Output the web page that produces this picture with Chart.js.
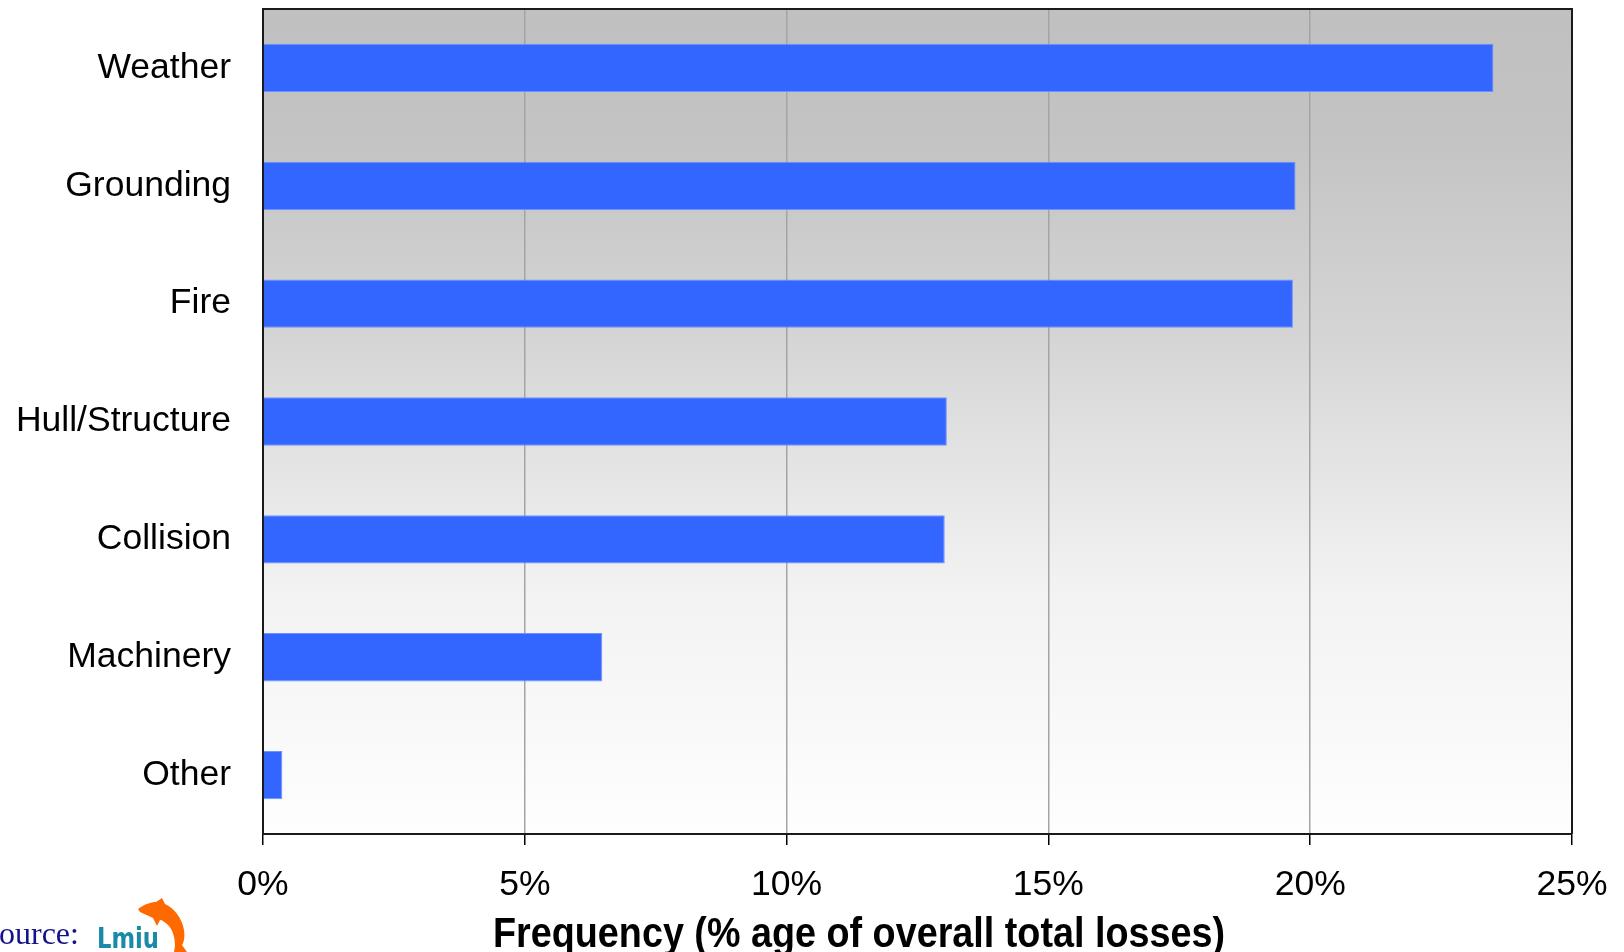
<!DOCTYPE html>
<html>
<head>
<meta charset="utf-8">
<title>Causes of total losses</title>
<script src="https://cdn.jsdelivr.net/npm/chart.js@4.4.1/dist/chart.umd.min.js"></script>
<style>
  html, body { margin: 0; padding: 0; background: #ffffff; }
  #wrap { width: 1624px; height: 952px; position: relative; }
  canvas { display: block; }
</style>
</head>
<body>
<div id="wrap"><canvas id="chart" width="1624" height="952"></canvas></div>
<script>
// Loss causes, top to bottom, with their share of overall total losses (%)
const causes = ['Weather', 'Grounding', 'Fire', 'Hull/Structure', 'Collision', 'Machinery', 'Other'];
const lossShare = [23.5, 19.72, 19.67, 13.06, 13.02, 6.48, 0.37];
// Frequency axis ticks (%)
const freqTicks = [0, 5, 10, 15, 20, 25];
const axisTitle = 'Frequency (% age of overall total losses)';
const sourceLabel = 'Source:';
const sourceName = 'Lmiu';

// Grey-to-white vertical wash behind the plot area
const plotBackground = {
  id: 'plotBackground',
  beforeDraw(chart) {
    const { ctx, chartArea: a } = chart;
    const g = ctx.createLinearGradient(0, a.top, 0, a.bottom);
    g.addColorStop(0.0, '#c0c0c0');
    g.addColorStop(0.15, '#c3c3c3');
    g.addColorStop(0.40, '#d5d5d5');
    g.addColorStop(0.50, '#dfdfdf');
    g.addColorStop(0.70, '#f2f2f2');
    g.addColorStop(1.0, '#fefefe');
    ctx.save();
    ctx.fillStyle = g;
    ctx.fillRect(a.left, a.top, a.right - a.left, a.bottom - a.top);
    ctx.restore();
  }
};

// Top and right edges of the plot frame, axis title and source credit
const frameAndNotes = {
  id: 'frameAndNotes',
  afterDraw(chart) {
    const { ctx, chartArea: a } = chart;
    ctx.save();
    ctx.strokeStyle = '#1a1a1a';
    ctx.lineWidth = 2;
    ctx.beginPath();
    ctx.moveTo(a.left, a.top);
    ctx.lineTo(a.right, a.top);
    ctx.lineTo(a.right, a.bottom);
    ctx.stroke();

    // x-axis title (bold, slightly condensed)
    ctx.fillStyle = '#000000';
    ctx.font = 'bold 42px "Liberation Sans", Arial, sans-serif';
    ctx.textAlign = 'center';
    ctx.textBaseline = 'alphabetic';
    ctx.fillText(axisTitle, 859, 947, 732);

    // source credit, running off the left edge
    ctx.fillStyle = '#12128c';
    ctx.font = '32px "Liberation Serif", "Times New Roman", serif';
    ctx.textAlign = 'left';
    const sWidth = ctx.measureText('S').width;
    ctx.fillText(sourceLabel, -sWidth - 1, 944);

    ctx.fillStyle = '#1a8aa8';
    ctx.font = 'bold 29px "DejaVu Sans", sans-serif';
    ctx.fillText(sourceName, 97, 948, 62);

    // dolphin emblem
    ctx.fillStyle = '#ff6a00';
    ctx.beginPath();
    ctx.moveTo(138, 909);
    ctx.bezierCurveTo(145, 904, 151, 902, 156, 902);
    ctx.lineTo(162, 898);
    ctx.lineTo(165, 904);
    ctx.bezierCurveTo(174, 908, 182, 918, 184, 930);
    ctx.bezierCurveTo(185, 937, 184, 942, 182, 945);
    ctx.lineTo(187, 952);
    ctx.lineTo(174, 952);
    ctx.lineTo(175, 946);
    ctx.bezierCurveTo(175, 938, 173, 930, 168, 925);
    ctx.bezierCurveTo(165, 922, 162, 920, 160, 920);
    ctx.lineTo(157, 926);
    ctx.lineTo(153, 918);
    ctx.bezierCurveTo(149, 916, 144, 914, 140, 912);
    ctx.closePath();
    ctx.fill();
    ctx.restore();
  }
};

const tickFont = { family: '"Liberation Sans", Arial, sans-serif', size: 35.5 };

new Chart(document.getElementById('chart'), {
  type: 'bar',
  data: {
    labels: causes,
    datasets: [{
      data: lossShare,
      backgroundColor: '#3366ff',
      borderColor: '#7090ff',
      borderWidth: 1,
      barPercentage: 0.41,
      categoryPercentage: 1.0
    }]
  },
  options: {
    indexAxis: 'y',
    responsive: false,
    animation: false,
    layout: { padding: { top: 9, right: 52, left: 0, bottom: 0 } },
    plugins: {
      legend: { display: false },
      tooltip: { enabled: false }
    },
    scales: {
      x: {
        min: freqTicks[0],
        max: freqTicks[freqTicks.length - 1],
        afterBuildTicks(scale) { scale.ticks = freqTicks.map(v => ({ value: v })); },
        afterFit(scale) {
          scale.height = 118;
          scale.paddingLeft = 0;
          scale.paddingRight = 0;
        },
        ticks: {
          color: '#000000',
          font: tickFont,
          padding: 19,
          maxRotation: 0,
          callback: v => v + '%'
        },
        grid: {
          color: '#a4a4a4',
          lineWidth: 1.5,
          tickColor: '#000000',
          tickLength: 11,
          tickWidth: 1.5
        },
        border: { display: true, color: '#1a1a1a', width: 2 }
      },
      y: {
        afterFit(scale) {
          scale.width = 263;
          scale.paddingTop = 0;
          scale.paddingBottom = 0;
        },
        ticks: {
          color: '#000000',
          font: tickFont,
          padding: 32
        },
        grid: { display: false, drawTicks: false },
        border: { display: true, color: '#1a1a1a', width: 2 }
      }
    }
  },
  plugins: [plotBackground, frameAndNotes]
});
</script>
</body>
</html>
